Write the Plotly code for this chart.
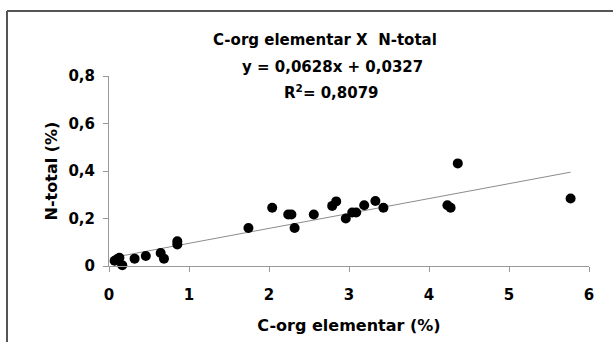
import plotly.graph_objects as go

c_org = [0.07, 0.10, 0.13, 0.166, 0.32, 0.46, 0.646, 0.687, 0.854, 0.854,
         1.743, 2.04, 2.24, 2.28, 2.32, 2.56, 2.79, 2.84, 2.96, 3.04, 3.09,
         3.19, 3.33, 3.43, 4.23, 4.27, 4.36, 5.77]
n_total = [0.022, 0.028, 0.035, 0.003, 0.031, 0.042, 0.055, 0.031, 0.104, 0.091,
           0.160, 0.245, 0.217, 0.217, 0.160, 0.217, 0.253, 0.272, 0.200, 0.225, 0.225,
           0.256, 0.274, 0.245, 0.256, 0.245, 0.432, 0.284]

slope, intercept = 0.0628, 0.0327
x_ticks = [0, 1, 2, 3, 4, 5, 6]
y_ticks = [0, 0.2, 0.4, 0.6, 0.8]
y_tick_text = ["0", "0,2", "0,4", "0,6", "0,8"]

x_line = [min(c_org), max(c_org)]
y_line = [slope * v + intercept for v in x_line]

font_family = "DejaVu Sans, Liberation Sans, Arial, sans-serif"

# plot area in pixels
L, R, T, B = 109, 589, 76, 266
W, H = 613, 342


def px_to_paper(px, py):
    return (px - L) / (R - L), (B - py) / (B - T)


fig = go.Figure()
fig.add_trace(go.Scatter(x=x_line, y=y_line, mode="lines",
                         line=dict(color="#8c8c8c", width=1), hoverinfo="skip"))
fig.add_trace(go.Scatter(x=c_org, y=n_total, mode="markers",
                         marker=dict(color="black", size=10), cliponaxis=False))

bx0, by0 = px_to_paper(7, 11)
bx1, by1 = px_to_paper(W + 5, H + 5)

fig.update_layout(
    width=W, height=H,
    margin=dict(l=L, r=W - R, t=T, b=H - B),
    paper_bgcolor="white", plot_bgcolor="white",
    showlegend=False,
    font=dict(family=font_family, color="black", size=15, weight="bold"),
    xaxis=dict(range=[0, 6], tickvals=x_ticks, ticktext=[str(v) for v in x_ticks],
               showgrid=False, zeroline=False, showline=True, linecolor="#999999",
               linewidth=1, ticks="outside", ticklen=5, tickcolor="#999999",
               ticklabelstandoff=10,
               tickfont=dict(size=15, weight="bold"),
               title=dict(text="C-org elementar (%)", font=dict(size=16, weight="bold"),
                          standoff=16)),
    yaxis=dict(range=[0, 0.8], tickvals=y_ticks, ticktext=y_tick_text,
               showgrid=False, zeroline=False, showline=True, linecolor="#999999",
               linewidth=1, ticks="outside", ticklen=5, tickcolor="#999999",
               ticklabelstandoff=5,
               tickfont=dict(size=15, weight="bold"),
               title=dict(text="N-total (%)", font=dict(size=16, weight="bold"),
                          standoff=6)),
    shapes=[
        dict(type="line", xref="paper", yref="paper", x0=bx0, x1=bx0, y0=by0, y1=by1,
             line=dict(color="#555555", width=2)),
        dict(type="line", xref="paper", yref="paper", x0=bx0, x1=bx1, y0=by0, y1=by0,
             line=dict(color="#555555", width=2)),
    ],
)

title_lines = [
    ("C-org elementar X\u00a0 N-total", 325, 40),
    ("y = 0,0628x + 0,0327", 332, 67),
    ("R<sup>2</sup>= 0,8079", 331, 92),
]
for text, px, py in title_lines:
    xp, yp = px_to_paper(px, py)
    fig.add_annotation(text=text, x=xp, y=yp, xref="paper", yref="paper",
                       xanchor="center", yanchor="middle", showarrow=False,
                       font=dict(size=15, weight="bold"))

fig.write_html("out.html", config={"displayModeBar": False},
               post_script="document.body.style.margin='0px';")
